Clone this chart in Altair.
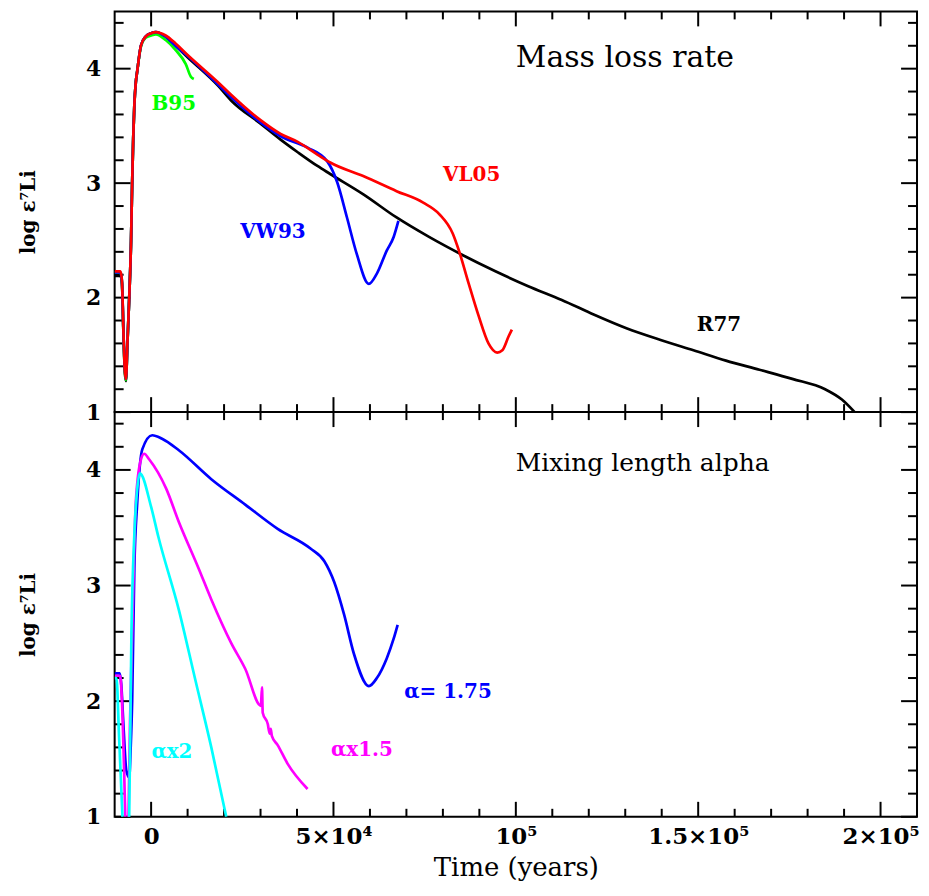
import altair as alt
import pandas as pd

# ---------------- data (time in years, log eps(7Li)) ----------------
# Top panel: mass-loss-rate prescriptions
R77_T = [-10000, -8400, -8000, -7600, -7200, -6900, -6500, -6000, -5500, -5200, -4900, -4600,
         -4200, -3800, -2800, -1500, 0, 1300, 4000, 6700, 10000, 18400, 22000, 30000, 35500,
         40200, 45600, 49100, 58300, 67300, 76200, 85500, 94400, 103400, 112600, 121500,
         130500, 139700, 148700, 157600, 166800, 175800, 184800, 189400, 192900]
R77_V = [2.19, 2.19, 2.12, 1.70, 1.35, 1.27, 1.60, 2.00, 2.50, 3.00, 3.40, 3.68,
         3.88, 3.98, 4.20, 4.28, 4.31, 4.32, 4.28, 4.20, 4.10, 3.85, 3.72, 3.52, 3.38,
         3.27, 3.15, 3.08, 2.90, 2.70, 2.53, 2.37, 2.23, 2.10, 1.98, 1.85,
         1.73, 1.63, 1.54, 1.45, 1.37, 1.29, 1.20, 1.11, 1.00]

B95_T = [-10000, -8400, -8000, -7600, -7200, -6900, -6500, -6000, -5500, -5200, -4900, -4600,
         -4200, -3800, -2800, -1500, 0, 1300, 4000, 6800, 9500, 10900, 11700]
B95_V = [2.22, 2.22, 2.14, 1.70, 1.35, 1.28, 1.60, 2.00, 2.50, 3.00, 3.40, 3.68,
         3.88, 3.98, 4.19, 4.27, 4.29, 4.30, 4.25, 4.16, 4.04, 3.93, 3.91]

VW93_T = [-10000, -8400, -8000, -7600, -7200, -6900, -6500, -6000, -5500, -5200, -4900, -4600,
          -4200, -3800, -2800, -1500, 0, 1300, 4000, 6700, 10000, 18400, 22000, 30000, 35500,
          42900, 48300, 51000, 53700, 56400, 59700, 61900, 64600, 66500, 67800]
VW93_V = [2.22, 2.22, 2.14, 1.72, 1.37, 1.29, 1.60, 2.00, 2.50, 3.00, 3.40, 3.68,
          3.88, 3.98, 4.20, 4.28, 4.31, 4.32, 4.28, 4.20, 4.11, 3.86, 3.75, 3.53, 3.41,
          3.31, 3.19, 3.01, 2.70, 2.38, 2.12, 2.21, 2.41, 2.53, 2.67]

VL05_T = [-10000, -8400, -8000, -7600, -7200, -6900, -6500, -6000, -5500, -5200, -4900, -4600,
          -4200, -3800, -2800, -1500, 0, 1300, 4000, 6700, 10000, 18400, 22000, 30000, 35500,
          40200, 45600, 49100, 58300, 67300, 74600, 79000, 82700, 84400, 87100, 89800,
          92500, 94900, 96300, 98000, 98900]
VL05_V = [2.23, 2.23, 2.15, 1.72, 1.36, 1.29, 1.60, 2.00, 2.50, 3.00, 3.40, 3.68,
          3.88, 3.98, 4.20, 4.28, 4.31, 4.32, 4.29, 4.22, 4.12, 3.88, 3.77, 3.55, 3.43,
          3.36, 3.25, 3.18, 3.06, 2.93, 2.83, 2.73, 2.56, 2.41, 2.12, 1.84,
          1.60, 1.52, 1.54, 1.66, 1.72]

# Bottom panel: mixing length alpha
A175_T = [-10000, -8600, -8200, -7600, -6800, -6000, -5600, -5200, -4600, -3800, -2400, 300,
          3000, 7600, 16500, 25800, 34700, 43700, 47500, 50200, 52900, 55600, 59700, 61900,
          64600, 66500, 67600]
A175_V = [2.24, 2.24, 2.15, 1.80, 1.40, 1.34, 1.60, 2.00, 3.15, 3.72, 4.18, 4.30,
          4.27, 4.17, 3.92, 3.70, 3.49, 3.32, 3.21, 3.03, 2.75, 2.41, 2.13, 2.20,
          2.37, 2.54, 2.66]

A15_T = [-10000, -8500, -8000, -7400, -6900, -6500, -6200, -5800, -5200, -4200, -2800, -1900,
         -500, 4100, 7600, 13000, 16500, 22000, 25800, 30100, 30400, 30600, 32000, 32500,
         32800, 33100, 34700, 37400, 42900]
A15_V = [2.22, 2.22, 2.00, 1.40, 0.80, 0.60, 1.00, 1.80, 2.58, 3.72, 4.09, 4.14,
         4.09, 3.84, 3.55, 3.15, 2.88, 2.50, 2.28, 1.96, 2.12, 1.90, 1.80, 1.72,
         1.76, 1.70, 1.62, 1.46, 1.24]

A2_T = [-10000, -9500, -8800, -7900, -7500, -6400, -6000, -5400, -4600, -3700, -3100, 0,
        2000, 7600, 12000, 16500, 20600]
A2_V = [2.20, 2.20, 1.70, 1.03, 0.70, 0.70, 1.03, 2.58, 3.44, 3.87, 3.97, 3.68,
        3.42, 2.79, 2.20, 1.60, 1.00]

TOP_LABELS = ["B95", "VW93", "VL05", "R77"]
TOP_LABEL_T = [6200, 33400, 87900, 155700]
TOP_LABEL_V = [3.69, 2.57, 3.07, 1.76]
BOT_LABELS = ["αx2", "αx1.5", "α= 1.75"]
BOT_LABEL_T = [5700, 57800, 81400]
BOT_LABEL_V = [1.56, 1.58, 2.08]
PANEL_TITLES = ["Mass loss rate", "Mixing length alpha"]
PANEL_TITLE_T = [100000, 100000]
PANEL_TITLE_V = [4.09, 4.06]

X_MAJOR = [0, 50000, 100000, 150000, 200000]
X_LABELS = ["0", "5×10⁴", "10⁵", "1.5×10⁵", "2×10⁵"]
X_MINOR = [10000, 20000, 30000, 40000, 60000, 70000, 80000, 90000, 110000, 120000,
           130000, 140000, 160000, 170000, 180000, 190000]
Y_MAJOR = [1, 2, 3, 4]
Y_MINOR = [1.2, 1.4, 1.6, 1.8, 2.2, 2.4, 2.6, 2.8, 3.2, 3.4, 3.6, 3.8, 4.2, 4.4]

# ---------------- styling ----------------
FONT = "DejaVu Serif"
W = 805
H_TOP = 402
H_BOT = 406
X_DOMAIN = [-10000, 210000]
Y_DOMAIN = [1, 4.5]
LINE_W = 2.7

xs = alt.Scale(domain=X_DOMAIN, nice=False, zero=False)
ys = alt.Scale(domain=Y_DOMAIN, nice=False, zero=False)

label_expr = " : ".join(
    f"datum.value == {v} ? '{t}'" for v, t in zip(X_MAJOR, X_LABELS)
) + " : ''"

x_axis_bottom = alt.Axis(
    values=X_MAJOR, labelExpr=label_expr, ticks=False, domain=False, grid=False,
    labelFont=FONT, labelFontSize=23, labelFontWeight="bold", labelColor="black",
    labelPadding=9, labelFlush=False, labelOverlap=False,
    title="Time (years)", titleFont=FONT, titleFontSize=26, titleFontWeight="normal",
    titleColor="black", titlePadding=6,
)

y_axis = alt.Axis(
    values=Y_MAJOR, format="d", ticks=False, domain=False, grid=False,
    labelFont=FONT, labelFontSize=22, labelFontWeight="bold", labelColor="black",
    labelPadding=14, minExtent=30, maxExtent=30,
    title="log ε⁷Li", titleFont=FONT, titleFontSize=20, titleFontWeight="bold",
    titleColor="black", titlePadding=46,
)


def line(t, v, color, x_axis):
    df = pd.DataFrame({"t": t, "v": v, "i": list(range(len(t)))})
    return alt.Chart(df).mark_line(color=color, strokeWidth=LINE_W, clip=True,
                                   interpolate="monotone").encode(
        x=alt.X("t:Q", scale=xs, axis=x_axis),
        y=alt.Y("v:Q", scale=ys, axis=y_axis),
        order=alt.Order("i:Q"),
    )


def ticks(height, x_axis):
    out = []
    for vals, length in [(X_MAJOR, 15), (X_MINOR, 8)]:
        df = pd.DataFrame({"t": vals})
        base = alt.Chart(df).mark_rule(color="black", strokeWidth=2)
        out.append(base.encode(x=alt.X("t:Q", scale=xs, axis=x_axis),
                               y=alt.value(0), y2=alt.value(length)))
        out.append(base.encode(x=alt.X("t:Q", scale=xs, axis=x_axis),
                               y=alt.value(height), y2=alt.value(height - length)))
    for vals, length in [(Y_MAJOR, 16), (Y_MINOR, 9)]:
        df = pd.DataFrame({"v": vals})
        base = alt.Chart(df).mark_rule(color="black", strokeWidth=2)
        out.append(base.encode(y=alt.Y("v:Q", scale=ys, axis=y_axis),
                               x=alt.value(0), x2=alt.value(length)))
        out.append(base.encode(y=alt.Y("v:Q", scale=ys, axis=y_axis),
                               x=alt.value(W), x2=alt.value(W - length)))
    return out


def texts(labels, ts, vs, colors, x_axis, size, weight, align="center"):
    out = []
    for lab, t, v, c in zip(labels, ts, vs, colors):
        df = pd.DataFrame({"t": [t], "v": [v], "s": [lab]})
        out.append(alt.Chart(df).mark_text(
            font=FONT, fontSize=size, fontWeight=weight, color=c,
            align=align, baseline="middle").encode(
            x=alt.X("t:Q", scale=xs, axis=x_axis),
            y=alt.Y("v:Q", scale=ys, axis=y_axis),
            text="s:N"))
    return out


# ---------------- top panel ----------------
top_layers = ticks(H_TOP, None)
top_layers += [
    line(R77_T, R77_V, "#000000", None),
    line(B95_T, B95_V, "#00ff00", None),
    line(VW93_T, VW93_V, "#0000ff", None),
    line(VL05_T, VL05_V, "#ff0000", None),
]
top_layers += texts(TOP_LABELS, TOP_LABEL_T, TOP_LABEL_V,
                    ["#00ff00", "#0000ff", "#ff0000", "#000000"], None, 20, "bold")
top_layers += texts(PANEL_TITLES[:1], PANEL_TITLE_T[:1], PANEL_TITLE_V[:1],
                    ["#000000"], None, 30, "normal", align="left")
top = alt.layer(*top_layers).properties(width=W, height=H_TOP)

# ---------------- bottom panel ----------------
bot_layers = ticks(H_BOT, x_axis_bottom)
bot_layers += [
    line(A175_T, A175_V, "#0000ff", x_axis_bottom),
    line(A15_T, A15_V, "#ff00ff", x_axis_bottom),
    line(A2_T, A2_V, "#00ffff", x_axis_bottom),
]
bot_layers += texts(BOT_LABELS, BOT_LABEL_T, BOT_LABEL_V,
                    ["#00ffff", "#ff00ff", "#0000ff"], x_axis_bottom, 20, "bold")
bot_layers += texts(PANEL_TITLES[1:], PANEL_TITLE_T[1:], PANEL_TITLE_V[1:],
                    ["#000000"], x_axis_bottom, 25, "normal", align="left")
bottom = alt.layer(*bot_layers).properties(width=W, height=H_BOT)

chart = alt.vconcat(top, bottom, spacing=0, bounds="flush").properties(
    padding={"left": 10, "top": 0, "right": 0, "bottom": 0},
    background="white",
).configure_view(stroke="black", strokeWidth=2)

chart.save("out.html", embed_options={"renderer": "svg", "actions": False})
